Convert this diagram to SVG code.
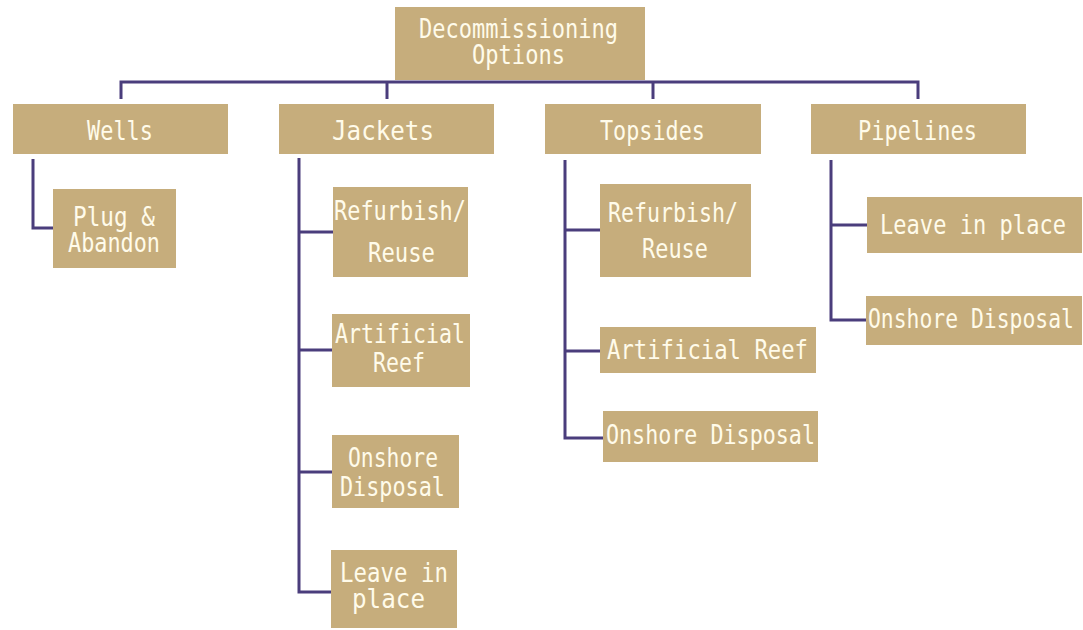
<svg xmlns="http://www.w3.org/2000/svg" width="1083" height="630" viewBox="0 0 1083 630">
<style>
.box{fill:#C6AD7C}
.t{font-family:"DejaVu Sans Mono","Liberation Mono",monospace;font-size:27px;fill:#FFFBEA;text-anchor:start}
.c{fill:none;stroke:#4A3D7C;stroke-width:3}
</style>
<rect width="1083" height="630" fill="#FFFFFF"/>
<g id="connectors" class="c">
<path d="M121,99 V82 H918 V99"/>
<path d="M387,82 V99"/>
<path d="M653,82 V99"/>
<path d="M33,159 V228 H53"/>
<path d="M299,158 V592 H331 M299,232 H333 M299,350 H332 M299,472 H332"/>
<path d="M565,160 V438 H603 M565,230 H600 M565,351 H600"/>
<path d="M831,160 V320 H866 M831,225 H867"/>
</g>
<g id="root"><rect class="box" x="395" y="7" width="250" height="73"/>
<text class="t" x="419" y="38" textLength="199" lengthAdjust="spacingAndGlyphs">Decommissioning</text>
<text class="t" x="472" y="64" textLength="93" lengthAdjust="spacingAndGlyphs">Options</text></g>
<g id="wells"><rect class="box" x="13" y="104" width="215" height="50"/>
<text class="t" x="87" y="140" textLength="66" lengthAdjust="spacingAndGlyphs">Wells</text></g>
<g id="jackets"><rect class="box" x="279" y="104" width="215" height="50"/>
<text class="t" x="332" y="140" textLength="102" lengthAdjust="spacingAndGlyphs">Jackets</text></g>
<g id="topsides"><rect class="box" x="545" y="104" width="216" height="50"/>
<text class="t" x="600" y="140" textLength="105" lengthAdjust="spacingAndGlyphs">Topsides</text></g>
<g id="pipelines"><rect class="box" x="811" y="104" width="215" height="50"/>
<text class="t" x="858" y="140" textLength="119" lengthAdjust="spacingAndGlyphs">Pipelines</text></g>
<g id="plug"><rect class="box" x="53" y="189" width="123" height="79"/>
<text class="t" x="73" y="226" textLength="82" lengthAdjust="spacingAndGlyphs">Plug &amp;</text>
<text class="t" x="68" y="252" textLength="92" lengthAdjust="spacingAndGlyphs">Abandon</text></g>
<g id="j-refurbish"><rect class="box" x="333" y="187" width="135" height="90"/>
<text class="t" x="334" y="220" textLength="132" lengthAdjust="spacingAndGlyphs">Refurbish/</text>
<text class="t" x="368" y="262" textLength="67" lengthAdjust="spacingAndGlyphs">Reuse</text></g>
<g id="j-reef"><rect class="box" x="332" y="314" width="138" height="73"/>
<text class="t" x="335" y="343" textLength="130" lengthAdjust="spacingAndGlyphs">Artificial</text>
<text class="t" x="373" y="372" textLength="52" lengthAdjust="spacingAndGlyphs">Reef</text></g>
<g id="j-onshore"><rect class="box" x="332" y="435" width="127" height="73"/>
<text class="t" x="348" y="467" textLength="90" lengthAdjust="spacingAndGlyphs">Onshore</text>
<text class="t" x="340" y="496" textLength="105" lengthAdjust="spacingAndGlyphs">Disposal</text></g>
<g id="j-leave"><rect class="box" x="331" y="550" width="126" height="78"/>
<text class="t" x="340" y="582" textLength="108" lengthAdjust="spacingAndGlyphs">Leave in</text>
<text class="t" x="352" y="608" textLength="73" lengthAdjust="spacingAndGlyphs">place</text></g>
<g id="t-refurbish"><rect class="box" x="600" y="184" width="151" height="93"/>
<text class="t" x="608" y="222" textLength="130" lengthAdjust="spacingAndGlyphs">Refurbish/</text>
<text class="t" x="642" y="258" textLength="66" lengthAdjust="spacingAndGlyphs">Reuse</text></g>
<g id="t-reef"><rect class="box" x="600" y="327" width="216" height="46"/>
<text class="t" x="607" y="359" textLength="201" lengthAdjust="spacingAndGlyphs">Artificial Reef</text></g>
<g id="t-onshore"><rect class="box" x="603" y="411" width="215" height="51"/>
<text class="t" x="606" y="444" textLength="209" lengthAdjust="spacingAndGlyphs">Onshore Disposal</text></g>
<g id="p-leave"><rect class="box" x="867" y="197" width="215" height="56"/>
<text class="t" x="880" y="234" textLength="186" lengthAdjust="spacingAndGlyphs">Leave in place</text></g>
<g id="p-onshore"><rect class="box" x="866" y="296" width="216" height="49"/>
<text class="t" x="868" y="328" textLength="206" lengthAdjust="spacingAndGlyphs">Onshore Disposal</text></g>
</svg>
